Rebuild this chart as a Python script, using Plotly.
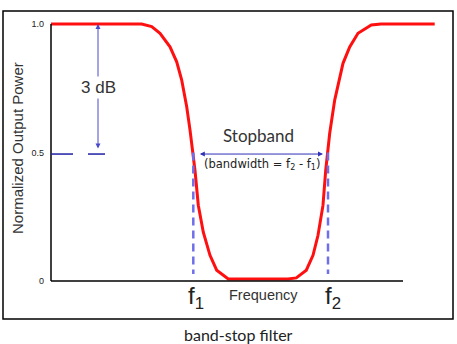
import plotly.graph_objects as go

# ---- data (frequency in arbitrary units, normalized output power) ----
freq = [0, 90.7, 100.7, 109, 119, 125.7, 130.7, 135.7, 139, 141.7, 144, 147.3, 152.3, 159, 165.7, 177.3,
        237, 245.3, 255.3, 262, 267, 272, 274.7, 278.7, 283.7, 292, 298.7, 307, 320.3, 330, 383.7]
power = [1.0, 1.0, 0.99, 0.964, 0.911, 0.853, 0.782, 0.678, 0.588, 0.51, 0.43, 0.295, 0.19, 0.10, 0.042, 0.008,
         0.008, 0.012, 0.042, 0.10, 0.178, 0.295, 0.43, 0.575, 0.704, 0.847, 0.911, 0.964, 0.996, 1.0, 1.0]
f1 = 142.3
f2 = 277.0
half_level = 0.5
axis_end = 352
db_x = 47
ytick_vals = [0, 0.5, 1.0]
ytick_text = ["0", "0.5", "1.0"]

# ---- layout geometry (pixels) ----
W, H = 457, 344
L, R, T, B = 45, 440, 14, 291


def px(p):
    return (p - L) / (R - L)


def py(p):
    return (B - p) / (B - T)


def fx(f):
    # frequency value -> paper x
    return px(f + 51)


x_range = [L - 51, R - 51]
y_range = [(281 - B) / 257, (281 - T) / 257]

fig = go.Figure()
fig.add_trace(go.Scatter(x=freq, y=power, mode="lines",
                         line=dict(color="#ff1010", width=3), hoverinfo="skip"))

shapes = []
# axes lines
shapes.append(dict(type="line", xref="x", yref="y", x0=0, x1=0, y0=0, y1=1.0,
                   line=dict(color="black", width=1.5)))
shapes.append(dict(type="line", xref="x", yref="y", x0=0, x1=axis_end, y0=0, y1=0,
                   line=dict(color="black", width=1.5)))
# dashed verticals at f1 and f2
for f in (f1, f2):
    shapes.append(dict(type="line", xref="x", yref="y", x0=f, x1=f, y0=half_level, y1=0.027,
                       line=dict(color="#6f6fea", width=2.5, dash="8px,5px")))
# dashed horizontal at 0.5
shapes.append(dict(type="line", xref="x", yref="y", x0=0, x1=22, y0=half_level - 0.006, y1=half_level - 0.006,
                   line=dict(color="#1f1fa5", width=1.5)))
shapes.append(dict(type="line", xref="x", yref="y", x0=37, x1=54, y0=half_level - 0.006, y1=half_level - 0.006,
                   line=dict(color="#1f1fa5", width=1.5)))
# outer frame
shapes.append(dict(type="rect", xref="paper", yref="paper", x0=px(3), x1=px(453), y0=py(319), y1=py(11),
                   line=dict(color="black", width=1.5)))

annotations = []
# 3 dB arrow
annotations.append(dict(x=db_x, y=1.0, ax=db_x, ay=0.51, xref="x", yref="y", axref="x", ayref="y",
                        text="", showarrow=True, arrowhead=2, startarrowhead=2, arrowside="end+start",
                        arrowsize=1, arrowwidth=1, arrowcolor="#4848cc"))
annotations.append(dict(x=db_x, y=0.751, xref="x", yref="y", text="3 dB", showarrow=False,
                        font=dict(family="Liberation Sans", size=17, color="#333333"),
                        bgcolor="white", borderpad=1))
# Stopband arrow
annotations.append(dict(x=f2 - 5, y=0.494, ax=f1 + 5, ay=0.494, xref="x", yref="y", axref="x", ayref="y",
                        text="", showarrow=True, arrowhead=2, startarrowhead=2, arrowside="end+start",
                        arrowsize=1, arrowwidth=1, arrowcolor="#3030b8"))
annotations.append(dict(x=207, y=0.568, xref="x", yref="y", text="Stopband", showarrow=False,
                        font=dict(family="Lato", size=17, color="#333333")))
annotations.append(dict(x=211, y=0.452, xref="x", yref="y",
                        text="(bandwidth = f<sub>2</sub> - f<sub>1</sub>)", showarrow=False,
                        font=dict(family="DejaVu Sans", size=11.5, color="#222222")))
# f1, f2 labels (below the axis, paper coords)
annotations.append(dict(x=fx(f1 + 3), y=py(297), xref="paper", yref="paper", xanchor="center", yanchor="middle",
                        text="f<sub>1</sub>", showarrow=False,
                        font=dict(family="Liberation Sans", size=24, color="#222222")))
annotations.append(dict(x=fx(f2 + 5), y=py(297), xref="paper", yref="paper", xanchor="center", yanchor="middle",
                        text="f<sub>2</sub>", showarrow=False,
                        font=dict(family="Liberation Sans", size=24, color="#222222")))
annotations.append(dict(x=px(263), y=py(295), xref="paper", yref="paper", xanchor="center", yanchor="middle",
                        text="Frequency", showarrow=False,
                        font=dict(family="Liberation Sans", size=14.5, color="#333333")))
# y title
annotations.append(dict(x=px(17), y=py(148), xref="paper", yref="paper", xanchor="center", yanchor="middle",
                        text="Normalized Output Power", textangle=-90, showarrow=False,
                        font=dict(family="Liberation Sans", size=15, color="#333333")))
# caption
annotations.append(dict(x=px(238), y=py(334), xref="paper", yref="paper", xanchor="center", yanchor="middle",
                        text="band-stop filter", showarrow=False,
                        font=dict(family="Lato", size=16, color="#222222")))

fig.update_layout(
    width=W, height=H,
    margin=dict(l=L, r=W - R, t=T, b=H - B, pad=0),
    paper_bgcolor="white", plot_bgcolor="white",
    showlegend=False,
    shapes=shapes, annotations=annotations,
    xaxis=dict(range=x_range, showgrid=False, zeroline=False, showline=False,
               showticklabels=False, ticks="", fixedrange=True),
    yaxis=dict(range=y_range, showgrid=False, zeroline=False, showline=False,
               tickvals=ytick_vals, ticktext=ytick_text, ticks="",
               tickfont=dict(family="Liberation Sans", size=9, color="#222222"), fixedrange=True),
)

fig.write_html("out.html", config={"displayModeBar": False})
